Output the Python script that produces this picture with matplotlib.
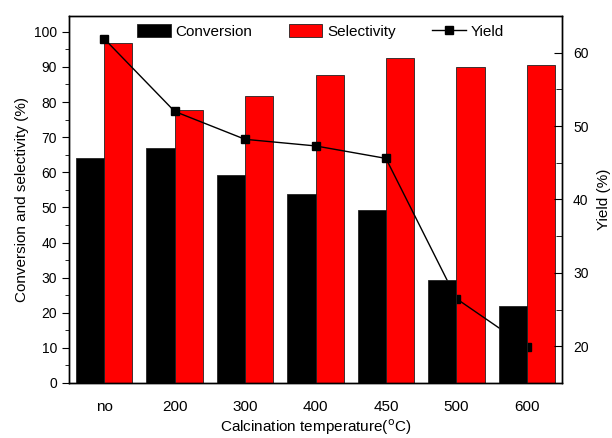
import matplotlib.pyplot as plt
import numpy as np
from matplotlib.ticker import MultipleLocator

plt.rcParams['font.family'] = ['Liberation Sans', 'DejaVu Sans']

# data
categories = ["no", "200", "300", "400", "450", "500", "600"]
conversion = [64.1, 67.0, 59.1, 53.9, 49.4, 29.2, 21.8]
selectivity = [96.9, 77.6, 81.8, 87.7, 92.5, 90.0, 90.5]
yield_pct = [61.9, 52.0, 48.2, 47.3, 45.6, 26.5, 19.9]


def main():
    fig = plt.figure(figsize=(6.12, 4.38), dpi=100)
    ax = fig.add_axes([69 / 612, 1 - 383 / 438, 493 / 612, 367 / 438])
    ax2 = ax.twinx()

    x = np.arange(len(categories))
    width = 0.4

    # red bars first, then the yield line, then black bars on top
    ax.bar(x + width / 2, selectivity, width, color="#ff0000",
           edgecolor="#222222", linewidth=0.6, label="Selectivity", zorder=1)
    ax2.set_ylim(15, 65)
    line, = ax.plot(x, yield_pct, color="black", marker="s", markersize=6,
                    linewidth=1.0, transform=ax2.transData, zorder=2,
                    label="Yield")
    ax.bar(x - width / 2, conversion, width, color="black",
           edgecolor="#222222", linewidth=0.6, label="Conversion", zorder=3)

    ax.set_xlim(-0.5, len(categories) - 0.5)
    ax.set_ylim(0, 104.5)
    ax.set_xticks(x)
    ax.set_xticklabels(categories, fontsize=11)
    ax.tick_params(axis="x", length=0, pad=12)
    ax.yaxis.set_major_locator(MultipleLocator(10))
    ax.yaxis.set_minor_locator(MultipleLocator(5))
    ax.tick_params(axis="y", which="major", direction="out", length=5,
                   labelsize=10)
    ax.tick_params(axis="y", which="minor", direction="out", length=3)

    ax2.yaxis.set_major_locator(MultipleLocator(10))
    ax2.yaxis.set_minor_locator(MultipleLocator(5))
    ax2.tick_params(axis="y", which="major", direction="in", length=6,
                    labelsize=10, pad=8)
    ax2.tick_params(axis="y", which="minor", direction="in", length=4)

    ax.set_ylabel("Conversion and selectivity (%)", fontsize=11, labelpad=4)
    ax2.set_ylabel("Yield (%)", fontsize=11, labelpad=6)
    ax.set_xlabel(r"Calcination temperature($^{\rm o}$C)", fontsize=11,
                  labelpad=3)

    handles, labels = ax.get_legend_handles_labels()
    order = [labels.index(n) for n in ["Conversion", "Selectivity", "Yield"]]
    ax.legend([handles[i] for i in order], [labels[i] for i in order],
              loc="upper center", ncol=3, frameon=False, fontsize=11,
              handlelength=2.2, handleheight=1.0, columnspacing=2.4,
              handletextpad=0.3, borderaxespad=0.1,
              bbox_to_anchor=(0.51, 1.0))

    for a in (ax, ax2):
        for s in a.spines.values():
            s.set_linewidth(1.0)

    plt.savefig("out.png")
    plt.close(fig)


if __name__ == "__main__":
    main()
